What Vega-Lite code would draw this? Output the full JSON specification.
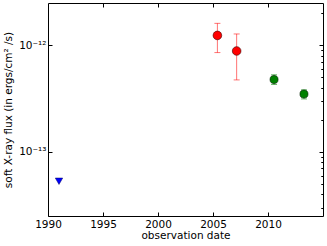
{
  "$schema": "https://vega.github.io/schema/vega-lite/v6.json",
  "width": 275,
  "height": 213,
  "autosize": "none",
  "padding": {"left": 48, "top": 3, "right": 4, "bottom": 30},
  "background": "white",
  "config": {
    "view": {"stroke": "black", "strokeWidth": 1},
    "font": "DejaVu Sans",
    "axis": {
      "domain": false, "grid": false, "tickColor": "black", "tickSize": -4, "tickWidth": 1,
      "labelColor": "black", "labelFont": "DejaVu Sans", "labelFontSize": 10.5, "labelFlush": false,
      "titleColor": "black", "titleFont": "DejaVu Sans", "titleFontSize": 10.5, "titleFontWeight": "normal"
    }
  },
  "data": {"values": [
    {"year": 1991.0, "flux": 5.3e-14, "group": "upper limit"},
    {"year": 2005.4, "flux": 1.24e-12, "lo": 8.56e-13, "hi": 1.61e-12, "group": "early"},
    {"year": 2007.15, "flux": 8.86e-13, "lo": 4.74e-13, "hi": 1.28e-12, "group": "early"},
    {"year": 2010.55, "flux": 4.78e-13, "lo": 4.29e-13, "hi": 5.3e-13, "group": "late"},
    {"year": 2013.27, "flux": 3.49e-13, "lo": 3.14e-13, "hi": 3.83e-13, "group": "late"}
  ]},
  "resolve": {"axis": {"x": "independent", "y": "independent"}},
  "layer": [
    {
      "transform": [{"filter": "isValid(datum.lo)"}],
      "mark": {"type": "errorbar", "ticks": {"size": 6}, "opacity": 0.55},
      "encoding": {
        "x": {"field": "year", "type": "quantitative", "scale": {"domain": [1990, 2015], "nice": false, "zero": false},
          "axis": {"values": [1990, 1995, 2000, 2005, 2010], "format": "d", "title": "observation date", "labelPadding": 7, "titlePadding": 1}},
        "y": {"field": "lo", "type": "quantitative", "scale": {"type": "log", "domain": [2.5e-14, 2.5e-12], "nice": false},
          "axis": {"values": [1e-13, 1e-12], "labelExpr": "datum.value < 5e-13 ? '10⁻¹³' : '10⁻¹²'", "title": "soft X-ray flux (in ergs/cm² /s)", "labelPadding": 6, "titlePadding": 5}},
        "y2": {"field": "hi"},
        "color": {"field": "group", "type": "nominal", "scale": {"domain": ["early", "late", "upper limit"], "range": ["#ff0000", "#008000", "#0000ff"]}, "legend": null}
      }
    },
    {
      "transform": [{"filter": "datum.group == 'early'"}],
      "mark": {"type": "point", "shape": "circle", "filled": true, "size": 75, "stroke": "#400000", "strokeWidth": 0.6, "opacity": 1},
      "encoding": {
        "x": {"field": "year", "type": "quantitative", "scale": {"domain": [1990, 2015], "nice": false, "zero": false},
          "axis": {"orient": "top", "values": [1995, 2000, 2005, 2010], "labels": false, "title": null}},
        "y": {"field": "flux", "type": "quantitative", "scale": {"type": "log", "domain": [2.5e-14, 2.5e-12], "nice": false},
          "axis": {"values": [3e-14, 4e-14, 5e-14, 6e-14, 7e-14, 8e-14, 9e-14, 2e-13, 3e-13, 4e-13, 5e-13, 6e-13, 7e-13, 8e-13, 9e-13, 2e-12], "tickSize": -2, "labels": false, "title": null}},
        "color": {"field": "group", "type": "nominal", "legend": null}
      }
    },
    {
      "transform": [{"filter": "datum.group == 'late'"}],
      "mark": {"type": "point", "shape": "circle", "filled": true, "size": 65, "stroke": "#002000", "strokeWidth": 0.6, "opacity": 1},
      "encoding": {
        "x": {"field": "year", "type": "quantitative", "scale": {"domain": [1990, 2015], "nice": false, "zero": false}, "axis": null},
        "y": {"field": "flux", "type": "quantitative", "scale": {"type": "log", "domain": [2.5e-14, 2.5e-12], "nice": false},
          "axis": {"orient": "right", "values": [1e-13, 1e-12], "labels": false, "title": null}},
        "color": {"field": "group", "type": "nominal", "legend": null}
      }
    },
    {
      "transform": [{"filter": "datum.group == 'upper limit'"}],
      "mark": {"type": "point", "shape": "triangle-down", "filled": true, "size": 55, "stroke": "#000060", "strokeWidth": 0.5, "opacity": 1},
      "encoding": {
        "x": {"field": "year", "type": "quantitative", "scale": {"domain": [1990, 2015], "nice": false, "zero": false}, "axis": null},
        "y": {"field": "flux", "type": "quantitative", "scale": {"type": "log", "domain": [2.5e-14, 2.5e-12], "nice": false},
          "axis": {"orient": "right", "values": [3e-14, 4e-14, 5e-14, 6e-14, 7e-14, 8e-14, 9e-14, 2e-13, 3e-13, 4e-13, 5e-13, 6e-13, 7e-13, 8e-13, 9e-13, 2e-12], "tickSize": -2, "labels": false, "title": null}},
        "color": {"field": "group", "type": "nominal", "legend": null}
      }
    }
  ]
}
